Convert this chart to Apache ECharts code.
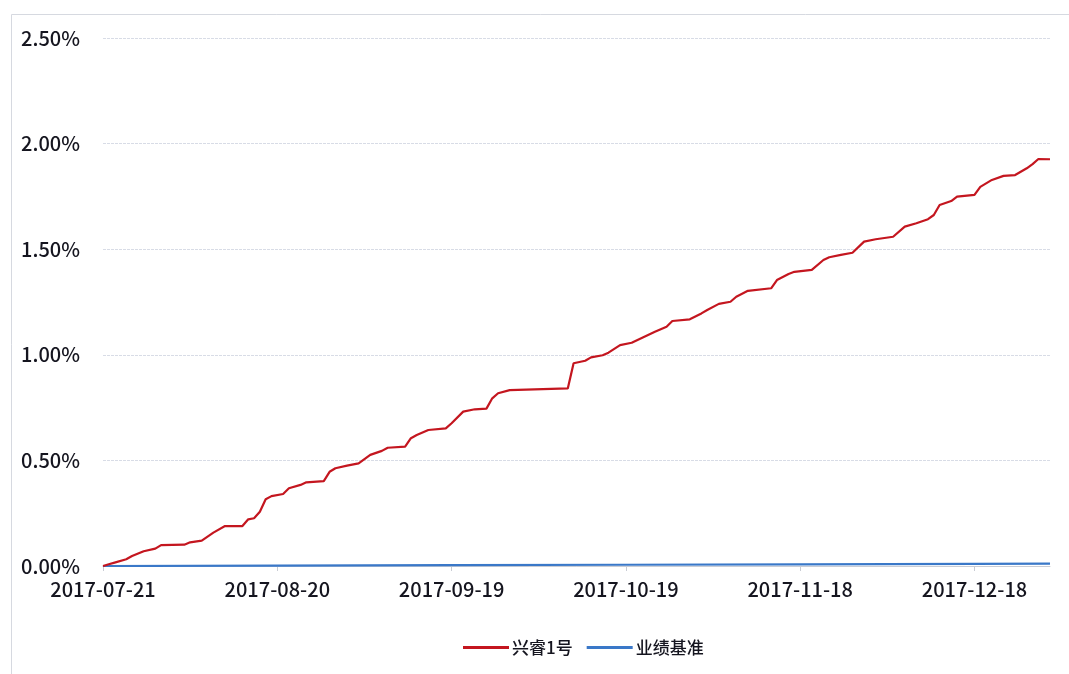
<!DOCTYPE html>
<html>
<head>
<meta charset="utf-8">
<script src="https://cdn.jsdelivr.net/npm/echarts@6/dist/echarts.min.js"></script>
<style>html,body{margin:0;padding:0;background:#fff}#c{width:1069px;height:674px}</style>
</head>
<body>
<div id="c"></div>
<script>
// ---- data (values in %) ----
var startDate = '2017-07-21';
var endDate = '2017-12-31';
var tickLabels = ['2017-07-21','2017-08-20','2017-09-19','2017-10-19','2017-11-18','2017-12-18'];
var yTicks = [0, 0.5, 1.0, 1.5, 2.0, 2.5];
var seriesNames = ['兴睿1号', '业绩基准'];

var fundDates = ['2017-07-21','2017-07-22','2017-07-23','2017-07-25','2017-07-26','2017-07-28','2017-07-30','2017-07-31',
  '2017-08-04','2017-08-05','2017-08-07','2017-08-09','2017-08-11','2017-08-14','2017-08-15','2017-08-16','2017-08-17',
  '2017-08-18','2017-08-19','2017-08-21','2017-08-22','2017-08-24','2017-08-25','2017-08-28','2017-08-29','2017-08-30',
  '2017-09-01','2017-09-03','2017-09-05','2017-09-07','2017-09-08','2017-09-11','2017-09-12','2017-09-13','2017-09-15',
  '2017-09-18','2017-09-19','2017-09-21','2017-09-23','2017-09-25','2017-09-26','2017-09-27','2017-09-29','2017-10-09',
  '2017-10-10','2017-10-12','2017-10-13','2017-10-15','2017-10-16','2017-10-18','2017-10-20','2017-10-22','2017-10-24',
  '2017-10-26','2017-10-27','2017-10-30','2017-11-01','2017-11-02','2017-11-04','2017-11-06','2017-11-07','2017-11-09',
  '2017-11-13','2017-11-14','2017-11-16','2017-11-17','2017-11-20','2017-11-22','2017-11-23','2017-11-25','2017-11-27',
  '2017-11-29','2017-12-01','2017-12-04','2017-12-06','2017-12-08','2017-12-10','2017-12-11','2017-12-12','2017-12-14',
  '2017-12-15','2017-12-18','2017-12-19','2017-12-21','2017-12-23','2017-12-25','2017-12-27','2017-12-28','2017-12-29',
  '2017-12-31'];
var fundValues = [0.000,0.008,0.016,0.032,0.047,0.070,0.082,0.099,
  0.101,0.112,0.120,0.158,0.189,0.189,0.221,0.226,0.257,
  0.316,0.331,0.341,0.368,0.384,0.396,0.402,0.446,0.463,
  0.475,0.486,0.526,0.545,0.560,0.565,0.605,0.620,0.644,
  0.652,0.676,0.731,0.742,0.745,0.794,0.818,0.833,0.841,
  0.960,0.972,0.988,0.998,1.010,1.046,1.057,1.083,1.109,
  1.133,1.160,1.168,1.196,1.212,1.241,1.251,1.275,1.303,
  1.315,1.354,1.383,1.393,1.402,1.449,1.462,1.473,1.483,
  1.536,1.547,1.559,1.607,1.623,1.642,1.662,1.709,1.728,
  1.749,1.757,1.795,1.828,1.847,1.851,1.883,1.903,1.927,
  1.926];

var benchDates = ['2017-07-21','2017-08-20','2017-09-19','2017-10-19','2017-11-18','2017-12-18','2017-12-31'];
var benchValues = [0.000,0.002,0.004,0.006,0.008,0.010,0.011];

// ---- build ----
function dayOf(s){
  var p = s.split('-');
  var t = Date.UTC(+p[0], +p[1]-1, +p[2]);
  var p0 = startDate.split('-');
  var t0 = Date.UTC(+p0[0], +p0[1]-1, +p0[2]);
  return Math.round((t - t0) / 86400000);
}
function pairs(ds, vs){ return ds.map(function(d,i){ return [dayOf(d), vs[i]]; }); }
var tickDays = tickLabels.map(dayOf);
var labelMap = {};
tickLabels.forEach(function(l){ labelMap[dayOf(l)] = l; });

var font = '"Noto Sans CJK SC", "Noto Sans", sans-serif';
var chart = echarts.init(document.getElementById('c'), null, {renderer:'canvas'});
chart.setOption({
  animation: false,
  backgroundColor: '#ffffff',
  graphic: [{
    type: 'rect', left: 9, top: 12, shape: {width: 1075, height: 680},
    style: {fill: 'none', stroke: '#d6d9e0', lineWidth: 1}, silent: true
  }],
  grid: {left: 103, right: 19, top: 38, bottom: 108, containLabel: false},
  legend: {
    left: 458, top: 634,
    itemWidth: 46, itemHeight: 3, itemGap: 14,
    icon: 'rect',
    textStyle: {fontFamily: font, fontSize: 17, fontWeight: 500, color: '#15151f', padding: [0,0,0,-2]},
    data: seriesNames
  },
  xAxis: {
    type: 'value', min: 0, max: dayOf(endDate),
    axisLine: {show: true, lineStyle: {color: '#c9ccd4', width: 1}},
    axisTick: {show: true, customValues: tickDays, length: 5, lineStyle: {color: '#c9ccd4'}},
    axisLabel: {
      customValues: tickDays, margin: 13,
      fontFamily: font, fontSize: 20, fontWeight: 500, color: '#15151f',
      formatter: function(v){ return labelMap[Math.round(v)] || ''; }
    },
    splitLine: {show: false}
  },
  yAxis: {
    type: 'value', min: yTicks[0], max: yTicks[yTicks.length-1], interval: 0.5,
    axisLine: {show: false}, axisTick: {show: false},
    axisLabel: {
      margin: 23, fontFamily: font, fontSize: 20, fontWeight: 500, color: '#15151f',
      formatter: function(v){ return v.toFixed(2) + '%'; }
    },
    splitLine: {show: true, lineStyle: {color: '#d8dce6', width: 1, type: [3,1]}}
  },
  series: [
    {
      name: seriesNames[0], type: 'line', data: pairs(fundDates, fundValues),
      showSymbol: false, symbol: 'none',
      lineStyle: {color: '#c4161f', width: 2.2}, itemStyle: {color: '#c4161f'}, z: 3
    },
    {
      name: seriesNames[1], type: 'line', data: pairs(benchDates, benchValues),
      showSymbol: false, symbol: 'none',
      lineStyle: {color: '#3a78c8', width: 2.2}, itemStyle: {color: '#3a78c8'}, z: 2
    }
  ]
});
</script>
</body>
</html>
